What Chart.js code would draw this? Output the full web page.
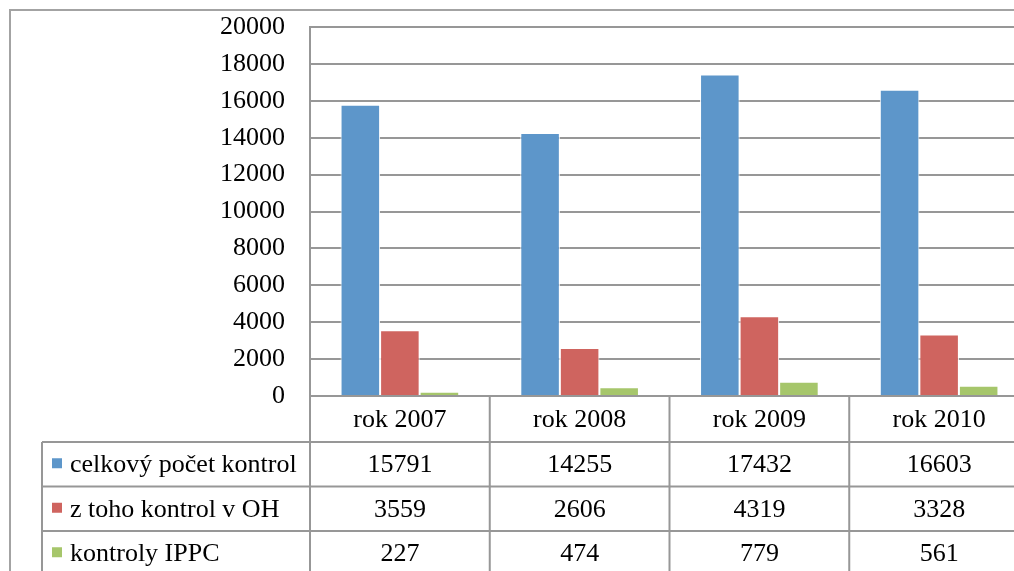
<!DOCTYPE html>
<html>
<head>
<meta charset="utf-8">
<script src="https://cdn.jsdelivr.net/npm/chart.js@4.4.1/dist/chart.umd.min.js"></script>
<style>
  html, body { margin: 0; padding: 0; background: #fff; overflow: hidden; }
  #wrap { position: absolute; left: 0; top: 0; width: 1040px; height: 571px; }
</style>
</head>
<body>
<div id="wrap"><canvas id="kontrolyChart"></canvas></div>
<script>
const categories = ['rok 2007', 'rok 2008', 'rok 2009', 'rok 2010']
const celkovyPocet = [15791, 14255, 17432, 16603]
const kontrolyOH = [3559, 2606, 4319, 3328]
const kontrolyIPPC = [227, 474, 779, 561]
const yTicks = [0, 2000, 4000, 6000, 8000, 10000, 12000, 14000, 16000, 18000, 20000]

const FONT = '"Liberation Serif", "Times New Roman", serif'
const LINE = '#979797'

// data table drawn under the plot, aligned with the x scale
const dataTable = {
    id: 'dataTable',
    afterDraw(chart) {
        const ctx = chart.ctx
        const area = chart.chartArea
        const x = chart.scales.x
        const n = chart.data.labels.length
        const bounds = [area.left]
        for (let i = 0; i < n - 1; i++) {
            bounds.push((x.getPixelForValue(i) + x.getPixelForValue(i + 1)) / 2)
        }
        bounds.push(area.right)

        const headTop = area.bottom
        const headBottom = headTop + 46
        const rowH = 44.5
        const legendLeft = 42
        const rows = chart.data.datasets.length

        ctx.save()
        ctx.strokeStyle = LINE
        ctx.lineWidth = 2
        ctx.beginPath()
        // verticals of category columns
        bounds.forEach(b => {
            ctx.moveTo(b, headTop)
            ctx.lineTo(b, chart.height)
        })
        // legend column left edge
        ctx.moveTo(legendLeft, headBottom)
        ctx.lineTo(legendLeft, chart.height)
        // horizontals
        for (let r = 0; r <= rows; r++) {
            const y = headBottom + r * rowH
            ctx.moveTo(legendLeft, y)
            ctx.lineTo(area.right, y)
        }
        ctx.stroke()

        ctx.fillStyle = '#000'
        ctx.font = '26px ' + FONT
        ctx.textBaseline = 'middle'
        ctx.textAlign = 'center'
        chart.data.labels.forEach((lab, i) => {
            ctx.fillText(lab, (bounds[i] + bounds[i + 1]) / 2, (headTop + headBottom) / 2 + 1)
        })
        chart.data.datasets.forEach((ds, r) => {
            const cy = headBottom + r * rowH + rowH / 2 + 1
            ctx.textAlign = 'center'
            ctx.fillStyle = '#000'
            ds.data.forEach((v, i) => {
                ctx.fillText(String(v), (bounds[i] + bounds[i + 1]) / 2, cy)
            })
            ctx.fillStyle = ds.backgroundColor
            ctx.fillRect(legendLeft + 10, cy - 7, 10, 10)
            ctx.fillStyle = '#000'
            ctx.textAlign = 'left'
            ctx.fillText(ds.label, legendLeft + 28, cy)
        })
        ctx.restore()
    },
    beforeDraw(chart) {
        const ctx = chart.ctx
        ctx.save()
        ctx.strokeStyle = '#a3a3a3'
        ctx.lineWidth = 2
        ctx.beginPath()
        ctx.moveTo(10, chart.height)
        ctx.lineTo(10, 10)
        ctx.lineTo(chart.width, 10)
        ctx.stroke()
        ctx.restore()
    }
}

const initializeChart = () => {
    const canvas = document.getElementById('kontrolyChart')
    new Chart(canvas, {
        type: 'bar',
        data: {
            labels: categories,
            datasets: [
                { label: 'celkový počet kontrol', data: celkovyPocet, backgroundColor: '#5d96ca' },
                { label: 'z toho kontrol v OH', data: kontrolyOH, backgroundColor: '#cf645f' },
                { label: 'kontroly IPPC', data: kontrolyIPPC, backgroundColor: '#a6c66b' }
            ]
        },
        options: {
            responsive: true,
            maintainAspectRatio: false,
            animation: false,
            layout: { padding: { left: 0, top: 27, right: 11, bottom: 175 } },
            datasets: {
                bar: {
                    categoryPercentage: 0.66,
                    barPercentage: 1,
                    borderColor: '#ffffff',
                    borderWidth: 1
                }
            },
            plugins: {
                legend: { display: false },
                tooltip: { enabled: false }
            },
            scales: {
                x: {
                    display: false
                },
                y: {
                    min: 0,
                    max: 20000,
                    afterFit: scale => {
                        scale.width = 310
                        scale.paddingTop = 0
                        scale.paddingBottom = 0
                    },
                    afterBuildTicks: scale => { scale.ticks = yTicks.map(v => ({ value: v })) },
                    grid: { color: LINE, lineWidth: 2, drawTicks: false },
                    border: { display: true, color: LINE, width: 2 },
                    ticks: {
                        padding: 25,
                        color: '#000',
                        font: { family: FONT, size: 26 },
                        callback: v => String(v)
                    }
                }
            }
        },
        plugins: [dataTable]
    })
}

initializeChart()
</script>
</body>
</html>
